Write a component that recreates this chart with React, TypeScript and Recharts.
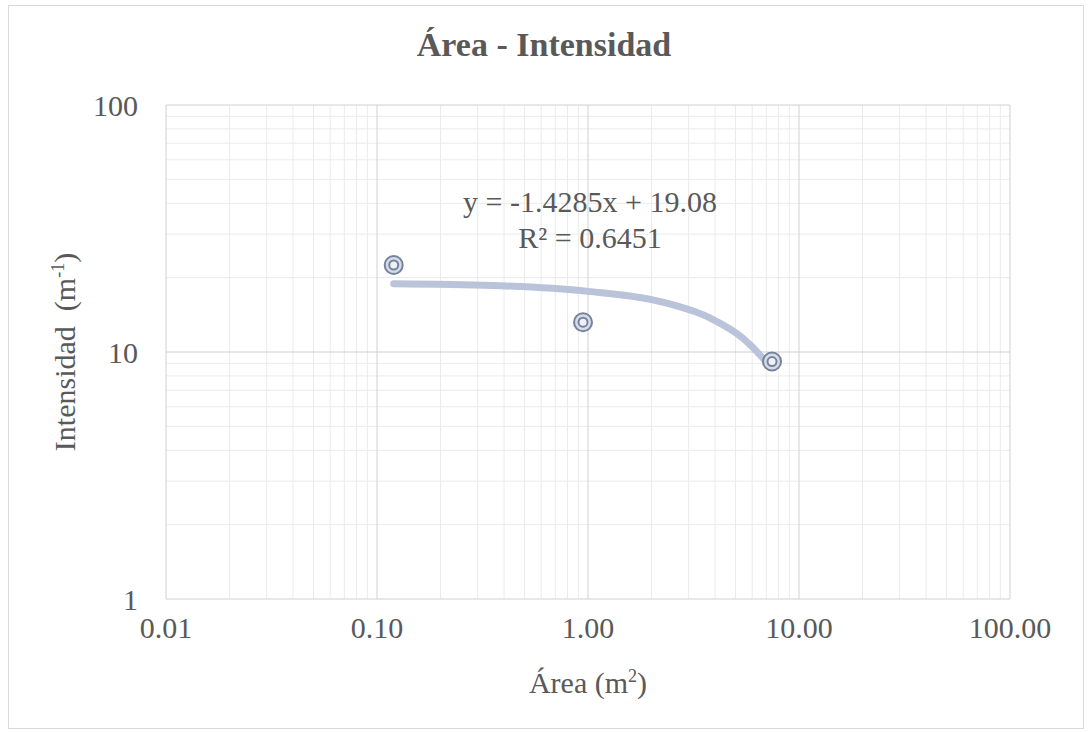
import React from "react"
import {
  ComposedChart,
  Scatter,
  Line,
  XAxis,
  YAxis,
  ReferenceLine,
} from "recharts"

// measured points (area m², intensity m⁻¹)
const areas = [0.12, 0.947, 7.45]
const intensities = [22.5, 13.2, 9.15]

// trendline
const trendAreas = [0.12, 0.35, 1.0, 2.2, 3.8, 5.4, 6.7, 7.3]
const trendValues = [18.9, 18.6, 17.6, 16.0, 13.7, 11.4, 9.5, 8.7]

const xTicks = [0.01, 0.1, 1, 10, 100]
const xTickLabels = ["0.01", "0.10", "1.00", "10.00", "100.00"]
const yTicks = [1, 10, 100]
const yTickLabels = ["1", "10", "100"]
const minorSteps = [2, 3, 4, 5, 6, 7, 8, 9]

const points = areas.map((x, i) => ({ x, y: intensities[i] }))
const trend = trendAreas.map((x, i) => ({ x, y: trendValues[i] }))

const xMinor = xTicks.slice(0, -1).flatMap((d) => minorSteps.map((s) => d * s))
const yMinor = yTicks.slice(0, -1).flatMap((d) => minorSteps.map((s) => d * s))

const FONT = '"Liberation Serif", "Times New Roman", serif'
const TEXT = "#595959"

function Marker(props: any) {
  const { cx, cy } = props
  if (cx == null || cy == null) return null
  return (
    <g>
      <circle cx={cx} cy={cy} r={9} fill="#d6dce8" stroke="#76839c" strokeWidth={2} />
      <circle cx={cx} cy={cy} r={4.5} fill="#eef1f6" stroke="#76839c" strokeWidth={2} />
    </g>
  )
}

export default function App() {
  return (
    <div style={{ position: "absolute", left: 0, top: 0, width: 1088, height: 733, background: "#fff", fontFamily: FONT }}>
      <div style={{ position: "absolute", left: 8, top: 5, width: 1074, height: 722, border: "1px solid #d9d9d9" }} />
      <ComposedChart
        width={1088}
        height={733}
        margin={{ top: 105, right: 78, bottom: 74, left: 106 }}
        style={{ position: "absolute", left: 0, top: 0 }}
      >
        <XAxis
          dataKey="x"
          type="number"
          scale="log"
          domain={[0.01, 100]}
          ticks={xTicks}
          tickFormatter={(v) => xTickLabels[xTicks.indexOf(v)] ?? ""}
          allowDataOverflow
          axisLine={false}
          tickLine={false}
          tickSize={0}
          tickMargin={18}
          interval={0}
          tick={{ fontSize: 30, fill: TEXT, fontFamily: FONT }}
          height={60}
        />
        <YAxis
          type="number"
          scale="log"
          domain={[1, 100]}
          ticks={yTicks}
          tickFormatter={(v) => yTickLabels[yTicks.indexOf(v)] ?? ""}
          allowDataOverflow
          axisLine={false}
          tickLine={false}
          tickSize={0}
          tickMargin={28}
          interval={0}
          tick={{ fontSize: 30, fill: TEXT, fontFamily: FONT }}
          width={60}
        />
        {xMinor.map((v) => (
          <ReferenceLine key={"xm" + v} x={v} stroke="#ebebeb" strokeWidth={1} />
        ))}
        {yMinor.map((v) => (
          <ReferenceLine key={"ym" + v} y={v} stroke="#ebebeb" strokeWidth={1} />
        ))}
        {xTicks.map((v) => (
          <ReferenceLine key={"xM" + v} x={v} stroke="#d0d0d0" strokeWidth={1} />
        ))}
        {yTicks.map((v) => (
          <ReferenceLine key={"yM" + v} y={v} stroke="#d0d0d0" strokeWidth={1} />
        ))}
        <Line
          data={trend}
          dataKey="y"
          type="monotone"
          stroke="#b9c3d9"
          strokeWidth={7}
          strokeLinecap="round"
          dot={false}
          activeDot={false}
          isAnimationActive={false}
        />
        <Scatter data={points} dataKey="y" shape={<Marker />} isAnimationActive={false} />
      </ComposedChart>

      <div style={{ position: "absolute", left: 0, width: 1088, top: 26, textAlign: "center", fontSize: 34, fontWeight: "bold", color: TEXT }}>
        Área - Intensidad
      </div>
      <div style={{ position: "absolute", left: 390, width: 400, top: 184, textAlign: "center", fontSize: 30, color: TEXT, lineHeight: "36px" }}>
        y = -1.4285x + 19.08
        <br />
        R² = 0.6451
      </div>
      <div style={{ position: "absolute", left: 388, width: 400, top: 666, textAlign: "center", fontSize: 30, color: TEXT }}>
        Área (m<sup style={{ fontSize: 18 }}>2</sup>)
      </div>
      <div
        style={{
          position: "absolute",
          left: 65,
          top: 352,
          transform: "translate(-50%, -50%) rotate(-90deg)",
          whiteSpace: "pre",
          fontSize: 30,
          color: TEXT,
        }}
      >
        {"Intensidad  (m"}
        <sup style={{ fontSize: 18 }}>-1</sup>)
      </div>
    </div>
  )
}
